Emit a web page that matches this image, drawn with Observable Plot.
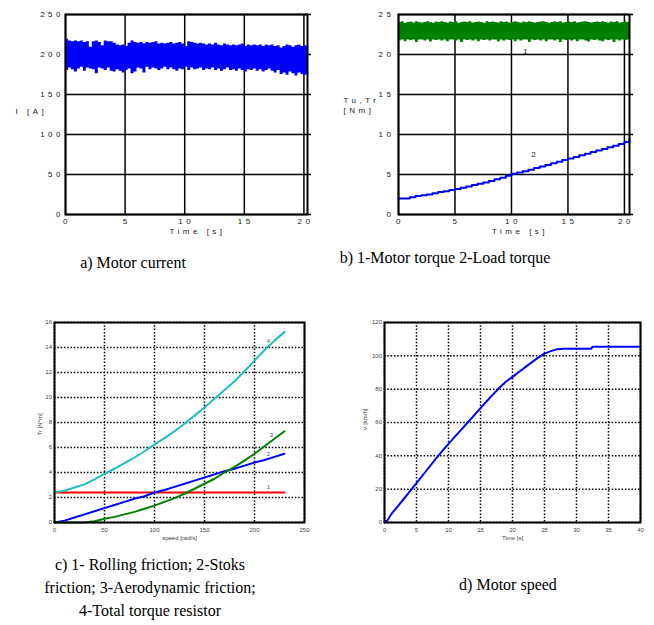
<!DOCTYPE html>
<html><head><meta charset="utf-8">
<script src="https://cdn.jsdelivr.net/npm/d3@7"></script>
<script src="https://cdn.jsdelivr.net/npm/@observablehq/plot@0.6"></script>
<style>
body{margin:0;background:#fff;}
#fig{position:relative;width:654px;height:625px;background:#fff;overflow:hidden;}
#fig svg{position:absolute;}
.cap{position:absolute;width:400px;font-family:"Liberation Serif","Times New Roman",serif;font-size:16px;color:#000;text-align:center;white-space:nowrap;line-height:23px;}
</style></head><body><div id="fig"></div>
<script>
// ---------- a) Motor current (band envelope sampled every 0.25 s) ----------
const currentTicksX = [0, 5, 10, 15, 20];
const currentTicksY = [0, 50, 100, 150, 200, 250];
const currentHigh = [
  219,217,216,217,216,217,215,216,
  209,216,217,215,211,217,216,216,
  214,212,211,212,210,214,217,215,
  214,215,213,215,214,215,216,213,
  214,213,214,215,213,214,215,213,
  210,216,215,214,213,214,213,212,
  213,212,214,212,211,213,212,211,
  212,211,212,213,210,212,211,212,
  211,212,210,212,211,212,210,211,
  208,210,212,211,209,211,212,210,
  211,209];
const currentLow = [
  180,183,181,178,182,184,179,183,
  182,181,176,183,182,180,183,179,
  178,181,179,177,180,182,176,178,
  183,182,177,184,181,183,182,180,
  182,184,181,183,181,179,182,181,
  184,180,183,181,182,183,180,182,
  181,183,180,182,179,181,183,180,
  181,179,182,180,178,181,180,182,
  179,181,178,180,182,179,177,180,
  175,177,174,178,176,173,177,175,
  174,176];

// ---------- b) 1-Motor torque (band) 2-Load torque ----------
const torqueTicksX = [0, 5, 10, 15, 20];
const torqueTicksY = [0, 5, 10, 15, 20, 25];
const motorTorqueHigh = [
  24.0,24.1,23.9,24.0,24.05,23.95,24.1,24.0,
  23.95,24.0,24.1,24.0,23.9,24.05,24.0,24.1,
  24.0,23.95,24.05,24.0,24.1,23.9,24.0,24.05,
  24.0,24.1,23.95,24.0,24.05,24.0,23.9,24.1,
  24.0,24.05,24.0,23.95,24.1,24.0,24.05,23.95,
  24.0,24.1,24.0,23.95,24.05,24.0,24.1,24.0,
  23.95,24.0,24.05,24.1,24.0,23.9,24.0,24.05,
  24.0,24.1,23.95,24.0,24.05,24.0,24.1,23.95,
  24.0,24.05,24.1,24.0,23.95,24.0,24.05,24.0,
  24.1,24.0,23.95,24.05,24.0,24.1,23.95,24.0,
  24.05,24.0];
const motorTorqueLow = [
  21.7,21.8,21.6,21.8,21.75,21.8,21.5,21.8,
  21.8,21.7,21.8,21.55,21.8,21.75,21.8,21.7,
  21.8,21.6,21.8,21.8,21.7,21.8,21.5,21.8,
  21.75,21.8,21.7,21.8,21.6,21.8,21.75,21.8,
  21.7,21.8,21.8,21.55,21.8,21.7,21.8,21.75,
  21.8,21.6,21.8,21.7,21.8,21.8,21.5,21.8,
  21.75,21.8,21.7,21.8,21.6,21.8,21.8,21.7,
  21.8,21.5,21.8,21.75,21.8,21.7,21.8,21.6,
  21.8,21.8,21.7,21.55,21.8,21.75,21.8,21.7,
  21.6,21.8,21.75,21.8,21.5,21.8,21.7,21.8,
  21.75,21.8];
const loadTime = [0,0.5,1,1.5,2,2.5,3,3.5,4,4.5,5,5.5,6,6.5,7,7.5,8,8.5,9,9.5,10,10.5,11,11.5,12,12.5,13,13.5,14,14.5,15,15.5,16,16.5,17,17.5,18,18.5,19,19.5,20,20.45];
const loadTorque = [2.0,2.0,2.15,2.3,2.4,2.5,2.65,2.8,2.9,3.05,3.2,3.35,3.5,3.7,3.85,4.0,4.2,4.4,4.6,4.85,5.1,5.25,5.4,5.6,5.8,6.0,6.2,6.4,6.6,6.8,7.0,7.2,7.4,7.6,7.8,8.0,8.2,8.4,8.6,8.8,9.05,9.45];
const torqueLabels = ["1", "2"];
const torqueLabelX = [11.4, 12.1];
const torqueLabelY = [20.4, 7.5];

// ---------- c) friction torques vs speed ----------
const frictionTicksX = [0, 50, 100, 150, 200, 250];
const frictionTicksY = [0, 2, 4, 6, 8, 10, 12, 14, 16];
const speed = [0,10,20,30,40,50,60,70,80,90,100,110,120,130,140,150,160,170,180,190,200,210,220,230];
const rollingFriction = [2.4,2.4,2.4,2.4,2.4,2.4,2.4,2.4,2.4,2.4,2.4,2.4,2.4,2.4,2.4,2.4,2.4,2.4,2.4,2.4,2.4,2.4,2.4,2.4];
const stokesFriction = [0.0,0.15,0.4,0.65,0.9,1.15,1.4,1.65,1.9,2.1,2.4,2.6,2.85,3.1,3.35,3.6,3.85,4.1,4.3,4.55,4.8,5.0,5.25,5.5];
const aeroFriction = [0,0,0,0,0.1,0.3,0.45,0.65,0.85,1.1,1.35,1.65,1.95,2.3,2.7,3.1,3.5,4.0,4.45,4.95,5.5,6.1,6.7,7.3];
const totalTorque = [2.4,2.55,2.8,3.05,3.45,3.9,4.3,4.75,5.2,5.7,6.25,6.75,7.3,7.9,8.55,9.2,9.9,10.6,11.3,12.1,12.95,13.8,14.55,15.25];
const frictionLabels = ["1", "2", "3", "4"];
const frictionLabelX = [214, 214, 217, 214];
const frictionLabelY = [2.8, 5.5, 7.0, 14.5];

// ---------- d) Motor speed ----------
const speedTicksX = [0, 5, 10, 15, 20, 25, 30, 35, 40];
const speedTicksY = [0, 20, 40, 60, 80, 100, 120];
const timeD = [0,0.5,1,2,3,4,5,6,7,8,9,10,11,12,13,14,15,16,17,18,19,20,21,22,23,24,25,26,27,28,30,32.3,32.5,35,40];
const motorSpeed = [0,1.5,4.7,9.4,14.1,18.8,23.6,28.5,33.3,38.2,42.8,47.2,51.5,55.7,60.0,64.3,68.6,72.9,77.0,81.0,84.6,87.4,90.3,93.2,96.1,98.9,101.3,102.8,104.0,104.2,104.2,104.2,105.5,105.5,105.5];

// ---------- captions ----------
const captions = [
  {text: ["a) Motor current"], cx: 133, top: 251},
  {text: ["b) 1-Motor torque 2-Load torque"], cx: 445, top: 246},
  {text: ["c) 1- Rolling friction; 2-Stoks", "friction; 3-Aerodynamic friction;", "4-Total torque resistor"], cx: 150, top: 553},
  {text: ["d) Motor speed"], cx: 508, top: 573}
];

const fig = document.getElementById("fig");
function place(svg, left, top) {
  svg.style.left = left + "px";
  svg.style.top = top + "px";
  svg.style.maxWidth = "none";
  fig.appendChild(svg);
}
const SANS = "'Liberation Sans', Arial, sans-serif";
const black = {stroke: "#000", strokeOpacity: 1};
const spacedStyle = `font-family:${SANS};font-size:8px;letter-spacing:3.5px;background:transparent;overflow:visible;`;

// ----- panel a -----
const xMaxA = 20.3;
const bandA = currentHigh.map((h, i) => ({t: i * 0.25, hi: h, lo: currentLow[i]}));
bandA.push({t: xMaxA, hi: currentHigh[currentHigh.length - 1], lo: currentLow[currentLow.length - 1]});
const pa = Plot.plot({
  width: 327, height: 245,
  marginLeft: 65, marginRight: 20, marginTop: 14, marginBottom: 31,
  x: {domain: [0, xMaxA], label: null},
  y: {domain: [0, 250], label: null},
  style: spacedStyle,
  marks: [
    Plot.gridX(currentTicksX, {...black, strokeWidth: 1.5}),
    Plot.gridY(currentTicksY, {...black, strokeWidth: 1.5}),
    Plot.areaY(bandA, {x: "t", y1: "lo", y2: "hi", fill: "#0000ff", curve: "step-after"}),
    Plot.axisX({ticks: currentTicksX, tickSize: 0, tickPadding: 4, fill: "#222", label: null, dx: 1.5}),
    Plot.axisY({ticks: currentTicksY, tickSize: 0, tickPadding: 1.5, fill: "#222", label: null}),
    Plot.axisY({ticks: currentTicksY, anchor: "right", tickSize: 3, tickFormat: () => "", strokeWidth: 1.5, label: null}),
    Plot.frame({stroke: "#000", strokeWidth: 2}),
    Plot.text(["Time [s]"], {text: d => d, frameAnchor: "bottom", dy: 19, dx: 11, fill: "#222"}),
    Plot.text(["I [A]"], {text: d => d, frameAnchor: "left", textAnchor: "start", dx: -50, dy: -3, fill: "#222"})
  ]
});
place(pa, 0, 0);

// ----- panel b -----
const xMaxB = 20.45;
const bandB = motorTorqueHigh.map((h, i) => ({t: i * 0.25, hi: h, lo: motorTorqueLow[i]}));
bandB.push({t: xMaxB, hi: motorTorqueHigh[motorTorqueHigh.length - 1], lo: motorTorqueLow[motorTorqueLow.length - 1]});
const pb = Plot.plot({
  width: 324, height: 245,
  marginLeft: 68, marginRight: 25, marginTop: 14, marginBottom: 31,
  x: {domain: [0, xMaxB], label: null},
  y: {domain: [0, 25], label: null},
  style: spacedStyle,
  marks: [
    Plot.gridX(torqueTicksX, {...black, strokeWidth: 1.5}),
    Plot.gridY(torqueTicksY, {...black, strokeWidth: 1.5}),
    Plot.areaY(bandB, {x: "t", y1: "lo", y2: "hi", fill: "#008000", curve: "step-after"}),
    Plot.line(loadTime, {x: d => d, y: (d, i) => loadTorque[i], stroke: "#0000ff", strokeWidth: 2, curve: "step-after"}),
    Plot.text(torqueLabels, {x: (d, i) => torqueLabelX[i], y: (d, i) => torqueLabelY[i], text: d => d, fill: "#222"}),
    Plot.axisX({ticks: torqueTicksX, tickSize: 0, tickPadding: 4, fill: "#222", label: null, dx: 1.5}),
    Plot.axisY({ticks: torqueTicksY, tickSize: 0, tickPadding: 4, fill: "#222", label: null}),
    Plot.axisY({ticks: torqueTicksY, anchor: "right", tickSize: 3, tickFormat: () => "", strokeWidth: 1.5, label: null}),
    Plot.frame({stroke: "#000", strokeWidth: 2}),
    Plot.text(["Time [s]"], {text: d => d, frameAnchor: "bottom", dy: 19, dx: 6, fill: "#222"}),
    Plot.text(["Tu,Tr"], {text: d => d, frameAnchor: "left", textAnchor: "start", dx: -55, dy: -14, fill: "#222"}),
    Plot.text(["[Nm]"], {text: d => d, frameAnchor: "left", textAnchor: "start", dx: -55, dy: -4, fill: "#222"})
  ]
});
place(pb, 330, 0);

// ----- panel c -----
const dotted = {stroke: "#000", strokeOpacity: 1, strokeWidth: 1.5, strokeDasharray: "1.5,1.8"};
const seriesC = [
  {vals: rollingFriction, color: "#ff0000"},
  {vals: stokesFriction, color: "#0000ff"},
  {vals: aeroFriction, color: "#008000"},
  {vals: totalTorque, color: "#1fbfbf"}
];
const pc = Plot.plot({
  width: 327, height: 250,
  marginLeft: 54, marginRight: 23, marginTop: 22, marginBottom: 28,
  x: {domain: [0, 250], label: null},
  y: {domain: [0, 16], label: null},
  style: `font-family:${SANS};font-size:6px;background:transparent;overflow:visible;`,
  marks: [
    Plot.gridX(frictionTicksX, dotted),
    Plot.gridY(frictionTicksY, dotted),
    ...seriesC.map(s => Plot.line(speed, {x: d => d, y: (d, i) => s.vals[i], stroke: s.color, strokeWidth: 2})),
    Plot.text(frictionLabels, {x: (d, i) => frictionLabelX[i], y: (d, i) => frictionLabelY[i], text: d => d, fill: "#555", fontSize: 6}),
    Plot.axisX({ticks: frictionTicksX, tickSize: 0, tickPadding: 5, fill: "#444", label: null}),
    Plot.axisY({ticks: frictionTicksY, tickSize: 0, tickPadding: 2.5, fill: "#444", label: null}),
    Plot.frame({stroke: "#000", strokeWidth: 2}),
    Plot.text(["speed [rad/s]"], {text: d => d, frameAnchor: "bottom", dy: 17, fill: "#444"}),
    Plot.text(["Tr [N*m]"], {text: d => d, frameAnchor: "left", rotate: -90, dx: -14, dy: 13, fill: "#444"})
  ]
});
place(pc, 0, 300);

// ----- panel d -----
const pd = Plot.plot({
  width: 327, height: 250,
  marginLeft: 57, marginRight: 14, marginTop: 22, marginBottom: 28,
  x: {domain: [0, 40], label: null},
  y: {domain: [0, 120], label: null},
  style: `font-family:${SANS};font-size:6px;background:transparent;overflow:visible;`,
  marks: [
    Plot.gridX(speedTicksX, dotted),
    Plot.gridY(speedTicksY, dotted),
    Plot.line(timeD, {x: d => d, y: (d, i) => motorSpeed[i], stroke: "#0000ff", strokeWidth: 2}),
    Plot.axisX({ticks: speedTicksX, tickSize: 0, tickPadding: 5, fill: "#444", label: null}),
    Plot.axisY({ticks: speedTicksY, tickSize: 0, tickPadding: 2.5, fill: "#444", label: null}),
    Plot.frame({stroke: "#000", strokeWidth: 2}),
    Plot.text(["Time [s]"], {text: d => d, frameAnchor: "bottom", dy: 17, fill: "#444"}),
    Plot.text(["V [km/h]"], {text: d => d, frameAnchor: "left", rotate: -90, dx: -19, dy: 8, fill: "#444"})
  ]
});
place(pd, 327, 300);

// ----- captions -----
captions.forEach(c => {
  const div = document.createElement("div");
  div.className = "cap";
  div.style.left = (c.cx - 200) + "px";
  div.style.top = c.top + "px";
  div.innerHTML = c.text.map(t => t.replace(/&/g, "&amp;")).join("<br>");
  fig.appendChild(div);
});
</script></body></html>
